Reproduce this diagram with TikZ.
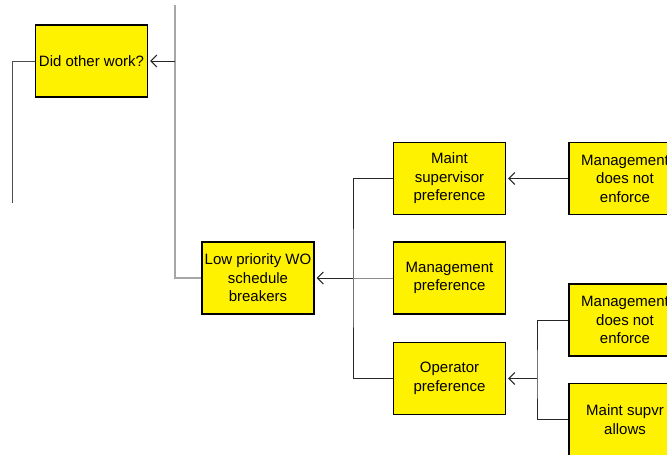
\documentclass[tikz,border=0pt]{standalone}
\usepackage{fontspec}
\setmainfont{Liberation Sans}
\usetikzlibrary{arrows.meta}

\tikzset{
  causebox/.style={draw=black, line width=1.2pt, fill=yellow, rectangle,
    minimum width=112pt, minimum height=72pt, inner sep=1pt, align=center,
    font=\fontsize{15}{18.5}\selectfont},
  link/.style={draw=black!85, line width=1pt},
  faint/.style={draw=black!35, line width=1.6pt},
}

\begin{document}
\begin{tikzpicture}[x=1pt, y=-1pt, >={Straight Barb[length=6pt,width=12pt]}]
\useasboundingbox (0,0) rectangle (667,455);
\clip (0,0) rectangle (667,455);

\node[causebox] (did) at (91.5,61) {Did other work?};
\node[causebox] (low) at (258,278) {Low priority WO\\schedule\\breakers};
\node[causebox] (maint) at (449.5,178.5) {Maint\\supervisor\\preference};
\node[causebox] (mgmt) at (449.5,278) {Management\\preference};
\node[causebox] (oper) at (449.5,378.5) {Operator\\preference};
\node[causebox] (nenfa) at (625,178.5) {Management\\does not\\enforce};
\node[causebox] (nenfb) at (625,320) {Management\\does not\\enforce};
\node[causebox] (allows) at (625,419.5) {Maint supvr\\allows};

\coordinate (top) at (175,5);
\coordinate (lft) at (12,203);
\coordinate (j1) at (175,61);
\coordinate (j2) at (353,278);
\coordinate (j3) at (537,378.5);

\path[faint] (top) |- (low.west);
\path[link,->,shorten >=2pt] (j1) -- (did.east);
\path[draw=black!70, line width=0.8pt] (did.west) -| (lft);

\path[link] (maint.west) -| (j2) |- (oper.west);
\path[draw=black!45, line width=1pt] (mgmt.west) -- (j2);
\path[link,->,shorten >=2pt] (j2) -- (low.east);

\path[link,->,shorten >=2pt] (nenfa.west) -- (maint.east);
\path[link] (nenfb.west) -| (j3) |- (allows.west);
\path[link,->,shorten >=2pt] (j3) -- (oper.east);
\end{tikzpicture}
\end{document}
